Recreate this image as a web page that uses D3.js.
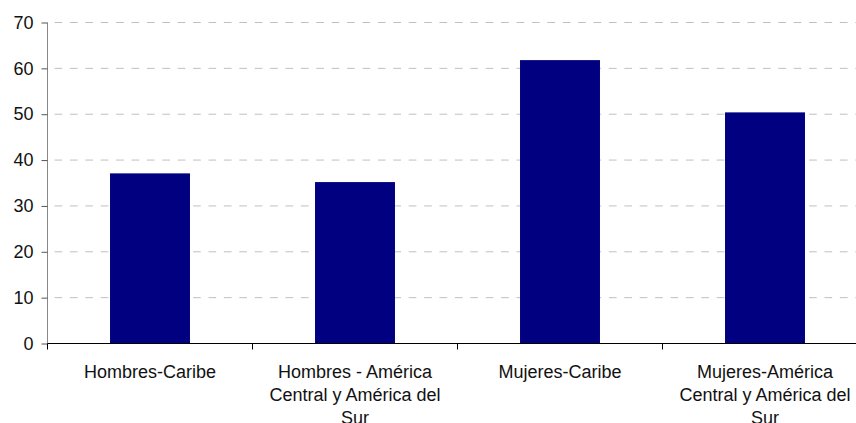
<!DOCTYPE html>
<html>
<head>
<meta charset="utf-8">
<script src="https://cdn.jsdelivr.net/npm/d3@7"></script>
<style>
  html, body { margin: 0; padding: 0; background: #fff; overflow: hidden; }
  svg { display: block; font-family: "Liberation Sans", Arial, sans-serif; }
</style>
</head>
<body>
<svg id="chart" width="856" height="423"></svg>
<script>
const categories = [
  "Hombres-Caribe",
  "Hombres - América Central y América del Sur",
  "Mujeres-Caribe",
  "Mujeres-América Central y América del Sur"
];
const values = [37.1, 35.2, 61.8, 50.4];
const yTicks = [0, 10, 20, 30, 40, 50, 60, 70];

const svg = d3.select("#chart");
const plotLeft = 47.5, plotRight = 867.5, plotTop = 22.5, plotBottom = 343.5;

const x = d3.scaleBand().domain(categories).range([plotLeft, plotRight])
  .paddingInner(0.61).paddingOuter(0.305);
const y = d3.scaleLinear().domain([0, 70]).range([plotBottom, plotTop]);

// gridlines
svg.append("g").selectAll("line")
  .data(yTicks.filter(t => t > 0))
  .join("line")
  .attr("x1", plotLeft).attr("x2", plotRight)
  .attr("y1", d => y(d)).attr("y2", d => y(d))
  .attr("stroke", "#c0c0c0").attr("stroke-width", 1)
  .attr("stroke-dasharray", "7.7,7.7")
  .attr("stroke-dashoffset", -7);

// bars
svg.append("g").selectAll("rect")
  .data(categories.map((c, i) => ({ c, v: values[i] })))
  .join("rect")
  .attr("x", d => x(d.c))
  .attr("width", x.bandwidth())
  .attr("y", d => y(d.v))
  .attr("height", d => y(0) - y(d.v))
  .attr("fill", "#000080");

// y axis
const yAxis = svg.append("g").attr("transform", `translate(${plotLeft},0)`)
  .call(d3.axisLeft(y).tickValues(yTicks).tickSize(6).tickPadding(8).tickFormat(d3.format("d")));
yAxis.select(".domain").attr("stroke", "#888").attr("d", `M0,${plotTop}V${plotBottom}`);
yAxis.selectAll(".tick line").attr("stroke", "#555");
yAxis.selectAll(".tick text").attr("font-size", "18px").attr("fill", "#111")
  .attr("font-family", "Liberation Sans, Arial, sans-serif");

// x axis line
svg.append("line").attr("x1", plotLeft).attr("x2", plotRight)
  .attr("y1", plotBottom).attr("y2", plotBottom).attr("stroke", "#000");

// category boundary ticks
const bounds = categories.map(c => x(c) + x.bandwidth() / 2 - x.step() / 2)
  .concat([x(categories[categories.length - 1]) + x.bandwidth() / 2 + x.step() / 2]);
svg.append("g").selectAll("line").data(bounds).join("line")
  .attr("x1", d => d).attr("x2", d => d)
  .attr("y1", plotBottom).attr("y2", plotBottom + 6)
  .attr("stroke", "#000");

// category labels with wrapping
const labelG = svg.append("g");
categories.forEach(c => {
  const cx = x(c) + x.bandwidth() / 2;
  const t = labelG.append("text")
    .attr("x", cx).attr("y", 377.5)
    .attr("text-anchor", "middle")
    .attr("font-size", "18px").attr("fill", "#111");
  const words = c.split(" ");
  let line = [];
  let tspan = t.append("tspan").attr("x", cx).attr("dy", 0);
  words.forEach(w => {
    line.push(w);
    tspan.text(line.join(" "));
    if (tspan.node().getComputedTextLength() > 190 && line.length > 1) {
      line.pop();
      tspan.text(line.join(" "));
      line = [w];
      tspan = t.append("tspan").attr("x", cx).attr("dy", 23.3).text(w);
    }
  });
});
</script>
</body>
</html>
